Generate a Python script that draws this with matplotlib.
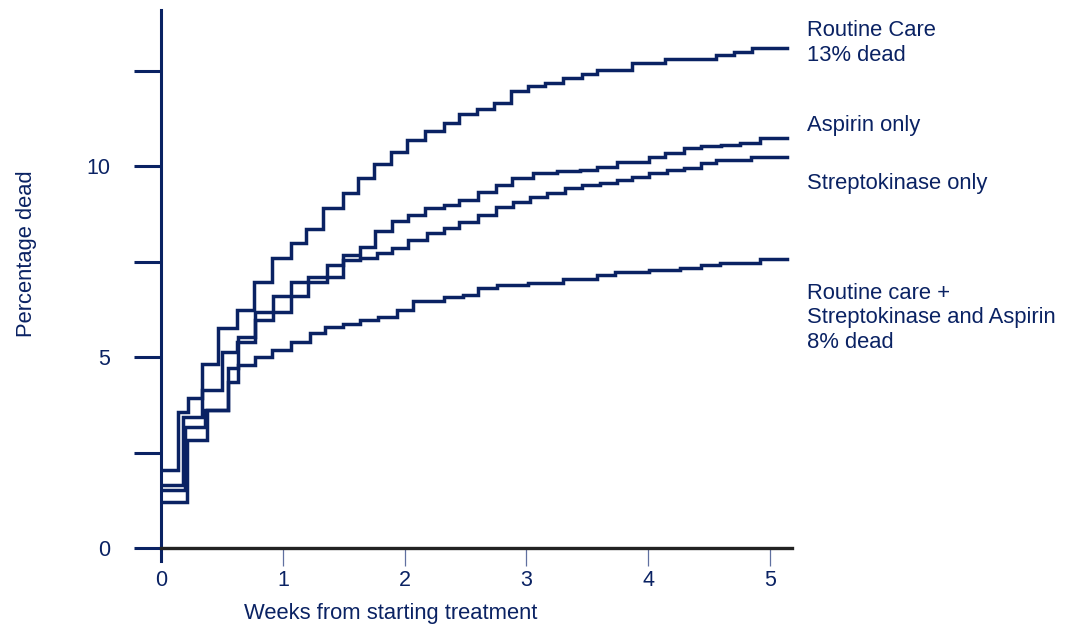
import matplotlib
matplotlib.use("Agg")
import matplotlib.pyplot as plt

plt.rcParams['font.family'] = ['Liberation Sans', 'DejaVu Sans']

NAVY = '#0a2263'

# ---- data (weeks from start, cumulative % dead; step changes) ----
rc_t = [0, 0.14, 0.22, 0.34, 0.47, 0.62, 0.76, 0.91, 1.07, 1.19, 1.33, 1.49, 1.62, 1.75,
        1.89, 2.02, 2.17, 2.32, 2.45, 2.59, 2.73, 2.87, 3.01, 3.15, 3.30, 3.46, 3.58, 3.87,
        4.14, 4.56, 4.70, 4.85, 5.14]
rc_y = [2.04, 3.56, 3.93, 4.82, 5.76, 6.23, 6.96, 7.59, 7.98, 8.35, 8.90, 9.29, 9.69, 10.05,
        10.37, 10.68, 10.92, 11.13, 11.36, 11.49, 11.65, 11.96, 12.09, 12.17, 12.30, 12.41,
        12.51, 12.70, 12.80, 12.91, 12.98, 13.09, 13.09]

asp_t = [0, 0.18, 0.34, 0.50, 0.62, 0.77, 1.07, 1.21, 1.36, 1.49, 1.63, 1.76, 1.90, 2.03,
         2.17, 2.32, 2.45, 2.60, 2.75, 2.88, 3.05, 3.25, 3.44, 3.58, 3.74, 4.01, 4.14, 4.29,
         4.43, 4.60, 4.75, 4.92, 5.14]
asp_y = [1.65, 3.43, 4.14, 5.13, 5.39, 6.18, 6.96, 7.09, 7.41, 7.67, 7.88, 8.30, 8.56, 8.72,
         8.90, 8.98, 9.11, 9.32, 9.50, 9.69, 9.82, 9.86, 9.90, 9.97, 10.10, 10.24, 10.34,
         10.47, 10.52, 10.56, 10.60, 10.73, 10.73]

sk_t = [0, 0.20, 0.36, 0.55, 0.63, 0.77, 0.92, 1.21, 1.36, 1.49, 1.63, 1.77, 1.90, 2.03,
        2.18, 2.32, 2.45, 2.60, 2.75, 2.89, 3.03, 3.17, 3.32, 3.46, 3.60, 3.74, 3.87, 4.01,
        4.15, 4.29, 4.43, 4.56, 4.84, 5.14]
sk_y = [1.52, 3.17, 3.61, 4.71, 5.52, 5.97, 6.60, 6.96, 7.09, 7.54, 7.59, 7.72, 7.85, 8.06,
        8.25, 8.38, 8.53, 8.72, 8.93, 9.06, 9.19, 9.29, 9.42, 9.50, 9.55, 9.63, 9.71, 9.82,
        9.90, 9.95, 10.08, 10.16, 10.24, 10.24]

both_t = [0, 0.21, 0.38, 0.55, 0.63, 0.77, 0.91, 1.07, 1.22, 1.35, 1.49, 1.63, 1.78, 1.94,
          2.07, 2.32, 2.48, 2.60, 2.76, 3.01, 3.30, 3.58, 3.73, 4.01, 4.26, 4.43, 4.59, 4.92,
          5.14]
both_y = [1.20, 2.83, 3.61, 4.35, 4.79, 5.00, 5.18, 5.39, 5.63, 5.79, 5.86, 5.97, 6.05, 6.23,
          6.46, 6.57, 6.62, 6.81, 6.88, 6.94, 7.04, 7.15, 7.23, 7.28, 7.33, 7.41, 7.46, 7.57,
          7.57]

series = [rc_t, rc_y], [asp_t, asp_y], [sk_t, sk_y], [both_t, both_y]

x_ticks = [0, 1, 2, 3, 4, 5]
y_major = [0, 5, 10]
y_minor = [2.5, 7.5, 12.5]

labels = [
    ("Routine Care\n13% dead", 43),
    ("Aspirin only", 125),
    ("Streptokinase only", 183),
    ("Routine care +\nStreptokinase and Aspirin\n8% dead", 318),
]

W, H = 1077, 627
fig = plt.figure(figsize=(W / 100, H / 100), dpi=100)
ax = fig.add_axes([161 / W, 1 - 561 / H, 631 / W, (561 - 9.5) / H])

for t, y in series:
    ax.step(t, y, where='post', color=NAVY, lw=2.5, solid_joinstyle='miter')

ax.set_xlim(0, 5.18)
ax.set_ylim(-0.34, 14.1)

for s in ['top', 'right']:
    ax.spines[s].set_visible(False)
ax.spines['left'].set_color(NAVY)
ax.spines['left'].set_linewidth(2.2)
ax.spines['bottom'].set_position(('data', 0))
ax.spines['bottom'].set_color('#222222')
ax.spines['bottom'].set_linewidth(2.4)

ax.set_yticks(y_major)
ax.set_yticklabels([str(v) for v in y_major])
ax.set_yticks(y_minor, minor=True)
ax.tick_params(axis='y', which='both', direction='out', length=19.5, width=2.2,
               color=NAVY, pad=17, labelsize=15.5, labelcolor=NAVY)

ax.set_xticks(x_ticks)
ax.set_xticklabels([str(v) for v in x_ticks])
ax.tick_params(axis='x', which='major', direction='out', length=13, width=0.9,
               color='#6070a0', pad=3, labelsize=15.5, labelcolor=NAVY)
ax.xaxis.get_major_ticks()[0].tick1line.set_visible(False)

for txt, ypx in labels:
    fig.text(807 / W, 1 - ypx / H, txt, ha='left', va='center', fontsize=15.8,
             color=NAVY, linespacing=1.2)

fig.text(27 / W, 1 - 254 / H, "Percentage dead", rotation=90, ha='center', va='center',
         fontsize=15.8, color=NAVY)
fig.text(391 / W, 1 - 614 / H, "Weeks from starting treatment", ha='center', va='center',
         fontsize=15.8, color=NAVY)

fig.savefig("out.png", dpi=100, facecolor='white')
